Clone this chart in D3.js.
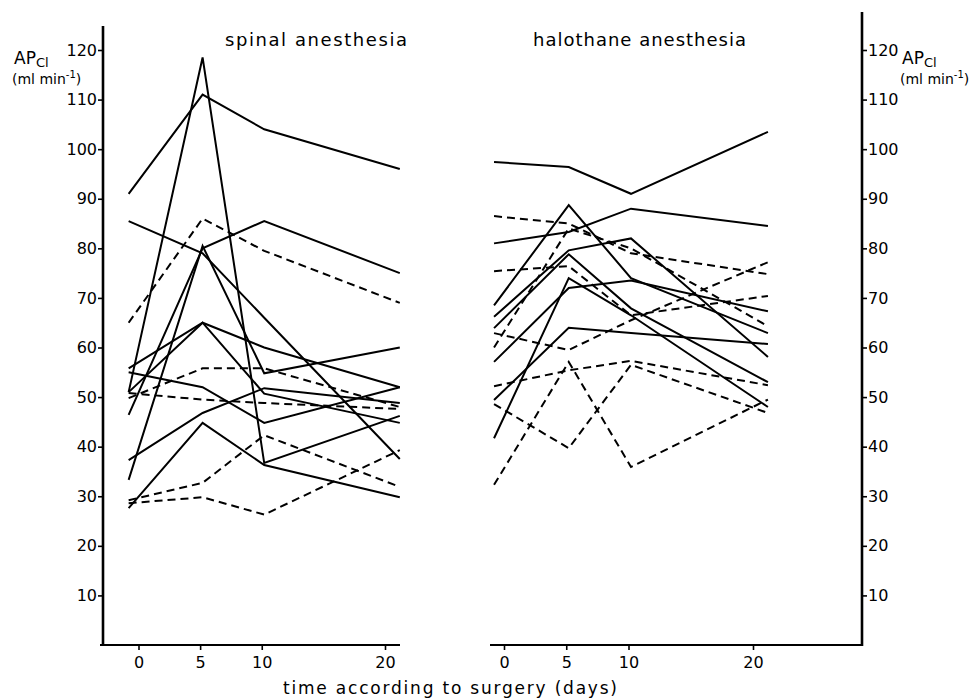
<!DOCTYPE html>
<html>
<head>
<meta charset="utf-8">
<script src="https://cdn.jsdelivr.net/npm/d3@7/dist/d3.min.js"></script>
<style>
  body { margin: 0; background: #fff; }
  text { font-family: "DejaVu Sans", sans-serif; fill: #000; }
</style>
</head>
<body>
<script>
// ---- data ----
const days = [-0.8, 5.2, 10.2, 21.2];          // measurement days
const xTicks = [0, 5, 10, 20];
const yTicks = [10, 20, 30, 40, 50, 60, 70, 80, 90, 100, 110, 120];

const spinalSolid = [
  [91, 111, 104, 96],
  [51, 118.5, 36.7, 46.2],
  [85.5, 79, 66, 37.5],
  [46.4, 80, 85.5, 75],
  [33.3, 80.5, 54.8, 60],
  [55.8, 65, 60, 52],
  [51, 65, 50.7, 44.8],
  [55, 52, 44.8, 52],
  [37.3, 46.8, 51.8, 48.8],
  [27.6, 44.8, 36.3, 29.8]
];
const spinalDashed = [
  [65, 86, 79.5, 69],
  [49.8, 55.8, 55.8, 48],
  [50.8, 49.5, 48.8, 47.6],
  [29.2, 32.7, 42.3, 31.9],
  [28.6, 29.8, 26.3, 39.3]
];
const haloSolid = [
  [97.4, 96.4, 91, 103.5],
  [81, 83.3, 88, 84.5],
  [68.5, 88.7, 74, 62.9],
  [66.2, 79.6, 82, 58.1],
  [63.9, 78.8, 67.9, 53],
  [57.1, 72, 73.5, 67.3],
  [49.4, 64, 62.9, 60.7],
  [41.7, 74, 66.5, 48]
];
const haloDashed = [
  [86.5, 85, 79, 74.8],
  [60, 84, 80, 64.3],
  [75.4, 76.4, 66.5, 70.4],
  [62.9, 59.5, 65.5, 77.2],
  [52.2, 55.4, 57.3, 52.4],
  [48.6, 39.7, 56.5, 46.8],
  [32.3, 57.1, 35.9, 49.5]
];
const titles = ["spinal anesthesia", "halothane anesthesia"];
const xLabel = "time according to surgery (days)";

// ---- drawing ----
const W = 977, H = 700;
const svg = d3.select("body").append("svg").attr("width", W).attr("height", H);
svg.append("rect").attr("width", W).attr("height", H).attr("fill", "#fff");

const y = d3.scaleLinear().domain([0, 120]).range([645, 50]);
const xL = d3.scaleLinear().domain([0, 20]).range([138.5, 385]);
const xR = d3.scaleLinear().domain([0, 20]).range([504, 753]);

function styleAxis(g) {
  g.select(".domain").remove();
  g.selectAll(".tick line").attr("stroke", "#000").attr("stroke-width", 1.6);
  g.selectAll(".tick text").style("font-size", "16px").attr("fill", "#000");
}

// left y axis
const gyL = svg.append("g").attr("transform", "translate(103,0)")
  .call(d3.axisLeft(y).tickValues(yTicks).tickSize(5).tickPadding(1));
styleAxis(gyL);
svg.append("line").attr("x1", 103).attr("x2", 103).attr("y1", 26).attr("y2", 646)
  .attr("stroke", "#000").attr("stroke-width", 2.6);

// right y axis
const gyR = svg.append("g").attr("transform", "translate(862,0)")
  .call(d3.axisRight(y).tickValues(yTicks).tickSize(5).tickPadding(1));
styleAxis(gyR);
svg.append("line").attr("x1", 862).attr("x2", 862).attr("y1", 12).attr("y2", 646)
  .attr("stroke", "#000").attr("stroke-width", 2.6);

// bottom axes
const gxL = svg.append("g").attr("transform", "translate(0,645)")
  .call(d3.axisBottom(xL).tickValues(xTicks).tickSize(5).tickPadding(7));
styleAxis(gxL);
svg.append("line").attr("x1", 100).attr("x2", 400).attr("y1", 645).attr("y2", 645)
  .attr("stroke", "#000").attr("stroke-width", 2.2);

const gxR = svg.append("g").attr("transform", "translate(0,645)")
  .call(d3.axisBottom(xR).tickValues(xTicks).tickSize(5).tickPadding(7));
styleAxis(gxR);
svg.append("line").attr("x1", 490).attr("x2", 863).attr("y1", 645).attr("y2", 645)
  .attr("stroke", "#000").attr("stroke-width", 2.2);

// series
function drawSeries(data, xs, dashed) {
  const line = d3.line().x((d, i) => xs(days[i])).y(d => y(d));
  svg.append("g").selectAll("path").data(data).join("path")
    .attr("d", line)
    .attr("fill", "none")
    .attr("stroke", "#000")
    .attr("stroke-width", 2)
    .attr("stroke-linejoin", "miter")
    .attr("stroke-dasharray", dashed ? "8,5" : null);
}
drawSeries(spinalSolid, xL, false);
drawSeries(spinalDashed, xL, true);
drawSeries(haloSolid, xR, false);
drawSeries(haloDashed, xR, true);

// titles
svg.append("text").attr("x", 225).attr("y", 46).style("font-size", "18px")
  .attr("textLength", 182).attr("lengthAdjust", "spacing").text(titles[0]);
svg.append("text").attr("x", 533).attr("y", 46).style("font-size", "18px")
  .attr("textLength", 213).attr("lengthAdjust", "spacing").text(titles[1]);

// x label
svg.append("text").attr("x", 283).attr("y", 694).style("font-size", "17px")
  .attr("textLength", 334).attr("lengthAdjust", "spacing").text(xLabel);

// y labels (AP_Cl, ml min^-1)
function yLabel(x, yb, x2) {
  const t = svg.append("text").attr("x", x).attr("y", yb).style("font-size", "17px");
  t.append("tspan").text("AP");
  t.append("tspan").attr("dy", 3).style("font-size", "13px").text("Cl");
  const u = svg.append("text").attr("x", x2).attr("y", yb + 20).style("font-size", "14px");
  u.append("tspan").text("(ml min");
  u.append("tspan").attr("dy", -6).style("font-size", "10px").text("-1");
  u.append("tspan").attr("dy", 6).text(")");
}
yLabel(14, 64, 12);
yLabel(902, 64, 900);
</script>
</body>
</html>
